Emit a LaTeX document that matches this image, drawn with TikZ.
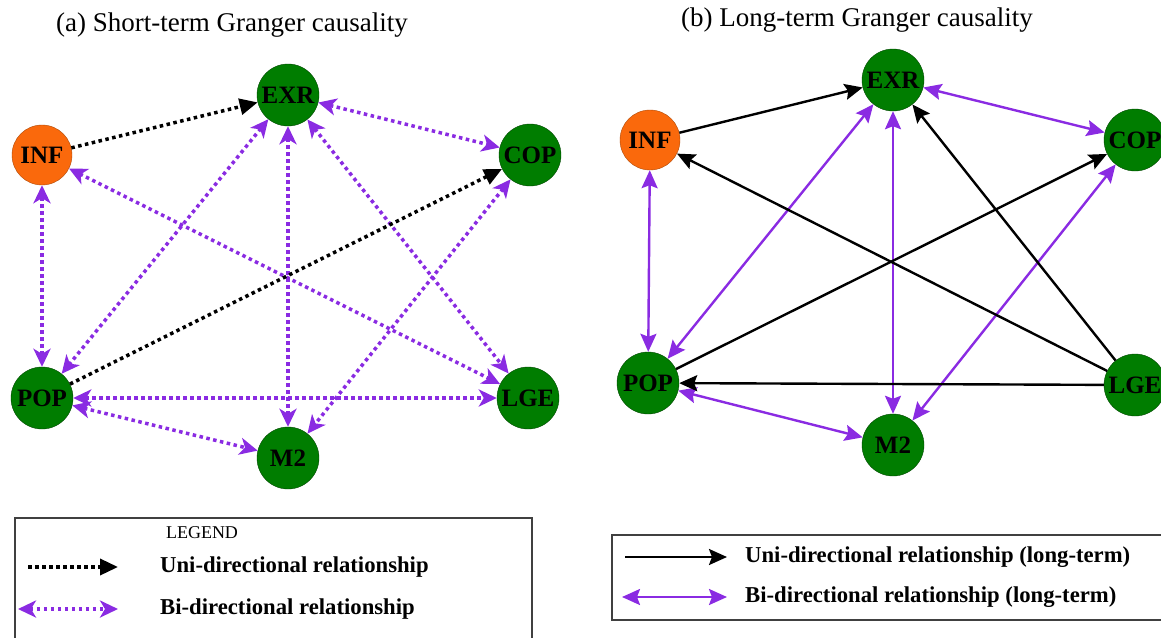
\documentclass[tikz,border=0pt]{standalone}
\usepackage{fontspec}
\setmainfont{Liberation Serif}
\usetikzlibrary{arrows.meta,positioning}
\definecolor{vargreen}{RGB}{0,125,0}
\definecolor{varorange}{RGB}{250,105,12}
\definecolor{bipurple}{RGB}{138,43,226}
\tikzset{
var/.style={circle,draw=black!45!vargreen,thin,fill=vargreen,minimum size=62pt,inner sep=0pt,font=\fontsize{25}{27}\selectfont\bfseries},
infvar/.style={var,draw=black!30!varorange,fill=varorange,minimum size=60pt},
panel/.style={font=\fontsize{27}{30}\selectfont},
legtext/.style={inner sep=0pt,anchor=west,font=\fontsize{22.7}{26}\selectfont\bfseries},
legbox/.style={draw=black!75,line width=1.4pt},
unishort/.style={-{Triangle[length=18pt,width=16pt]},line width=3.5pt,dash pattern=on 3.5pt off 3.5pt,black},
bishort/.style={{Stealth[length=18pt,width=17pt,inset=5pt]}-{Stealth[length=18pt,width=17pt,inset=5pt]},line width=3.5pt,dash pattern=on 3.5pt off 3.5pt,bipurple},
unilong/.style={-{Stealth[length=18pt,width=16pt,inset=3pt]},line width=2.4pt,black},
bilong/.style={{Stealth[length=18pt,width=16pt,inset=3pt]}-{Stealth[length=18pt,width=16pt,inset=3pt]},line width=2.4pt,bipurple}
}
\begin{document}
\begin{tikzpicture}[x=1pt,y=-1pt]
\useasboundingbox (0,0) rectangle (1161,637);
% (a) short-term
\node[panel](titleA) at (232,25){(a) Short-term Granger causality};
\node[var](sexr) at (288,95){EXR};
\node[infvar](sinf) at (42,155){INF};
\node[var](scop) at (530,155){COP};
\node[var](spop) at (42,398){POP};
\node[var](slge) at (528,398){LGE};
\node[var](sm2) at (288,458){M2};
\draw[bishort](sexr)--(scop);\draw[bishort](sexr)--(spop);\draw[bishort](sexr)--(sm2);
\draw[bishort](sexr)--(slge);\draw[bishort](sinf)--(spop);\draw[bishort](sinf)--(slge);
\draw[bishort](scop)--(sm2);\draw[bishort](spop)--(slge);\draw[bishort](spop)--(sm2);
\draw[unishort](sinf)--(sexr);\draw[unishort](spop)--(scop);
% legend (a)
\draw[legbox](15,518) rectangle (532,660);
\node[font=\fontsize{18}{20}\selectfont](legA) at (202,533){LEGEND};
\coordinate(unisA) at (28,567);\coordinate(unieA) at (118,567);
\coordinate(bisA) at (18,609);\coordinate(bieA) at (118,609);
\draw[unishort](unisA)--(unieA);\draw[bishort](bisA)--(bieA);
\node[legtext,right=42pt of unieA](uniA){Uni-directional relationship};
\node[legtext,right=42pt of bieA](biA){Bi-directional relationship};
% (b) long-term
\node[panel](titleB) at (857,20){(b) Long-term Granger causality};
\node[var](lexr) at (893,80){EXR};
\node[infvar](linf) at (650,140){INF};
\node[var](lcop) at (1135,140){COP};
\node[var](lpop) at (648,383){POP};
\node[var](llge) at (1135,385){LGE};
\node[var](lm2) at (893,445){M2};
\draw[bilong](lexr)--(lcop);\draw[bilong](lexr)--(lpop);\draw[bilong](lexr)--(lm2);
\draw[bilong](linf)--(lpop);\draw[bilong](lcop)--(lm2);\draw[bilong](lpop)--(lm2);
\draw[unilong](linf)--(lexr);\draw[unilong](lpop)--(lcop);\draw[unilong](llge)--(linf);
\draw[unilong](llge)--(lexr);\draw[unilong](llge)--(lpop);
% legend (b)
\draw[legbox](612,535) rectangle (1180,620);
\coordinate(unisB) at (625,557);\coordinate(unieB) at (727,557);
\coordinate(bisB) at (622,597);\coordinate(bieB) at (727,597);
\draw[unilong](unisB)--(unieB);\draw[bilong](bisB)--(bieB);
\node[legtext,right=18pt of unieB](uniB){Uni-directional relationship (long-term)};
\node[legtext,right=18pt of bieB](biB){Bi-directional relationship (long-term)};
\end{tikzpicture}
\end{document}
